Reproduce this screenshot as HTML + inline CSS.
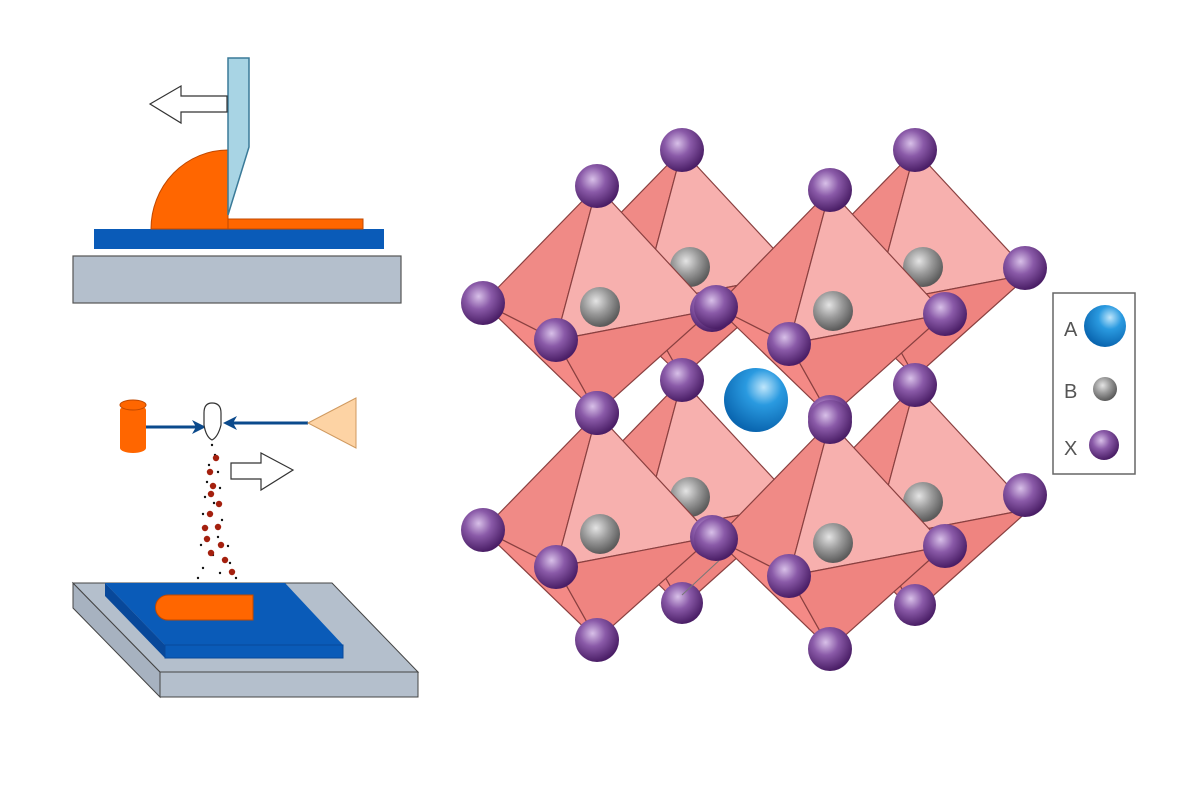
<!DOCTYPE html>
<html><head><meta charset="utf-8"><style>
html,body{margin:0;padding:0;background:#fff;width:1200px;height:800px;overflow:hidden}
svg{display:block}
</style></head><body>
<svg id="s" width="1200" height="800" viewBox="0 0 1200 800" xmlns="http://www.w3.org/2000/svg">
<defs>
<radialGradient id="gx" cx="0.4" cy="0.35" r="0.65"><stop offset="0" stop-color="#d8c0e8"/><stop offset="0.45" stop-color="#8a5aa8"/><stop offset="1" stop-color="#4a1e66"/></radialGradient>
<radialGradient id="gb" cx="0.4" cy="0.35" r="0.65"><stop offset="0" stop-color="#e4e4e4"/><stop offset="0.5" stop-color="#9a9a9a"/><stop offset="1" stop-color="#5a5a5a"/></radialGradient>
<radialGradient id="ga" cx="0.62" cy="0.3" r="0.7"><stop offset="0" stop-color="#bfe6fb"/><stop offset="0.4" stop-color="#2a9ae0"/><stop offset="1" stop-color="#0a66b0"/></radialGradient>
</defs>
<!-- top-left: blade coating -->
<rect x="73" y="256" width="328" height="47" fill="#b4bfcc" stroke="#555" stroke-width="1.2"/>
<rect x="94" y="229" width="290" height="20" fill="#0a5bb8"/>
<rect x="228" y="219" width="135" height="10" fill="#ff6600" stroke="#c04800" stroke-width="1"/>
<path d="M228 229 L151 229 A77 79 0 0 1 228 150 Z" fill="#ff6600" stroke="#c04800" stroke-width="1"/>
<polygon points="228,58 249,58 249,147 228,215" fill="#a8d4e4" stroke="#3a7a98" stroke-width="1.5"/>
<polygon points="227,96 181,96 181,86 150,104 181,123 181,112 227,112" fill="#fff" stroke="#333" stroke-width="1.2"/>
<!-- bottom-left: spray -->
<polygon points="73,583 160,672 160,697 73,608" fill="#a7b2c0" stroke="#444" stroke-width="1"/>
<polygon points="73,583 332,583 418,672 160,672" fill="#b4bfcc" stroke="#444" stroke-width="1"/>
<rect x="160" y="672" width="258" height="25" fill="#b4bfcc" stroke="#444" stroke-width="1"/>
<polygon points="105,583 285,583 343,645 165,645" fill="#0a5bb8"/>
<polygon points="105,583 165,645 165,658 105,596" fill="#08489a"/>
<rect x="165" y="645" width="178" height="13" fill="#0a5bb8" stroke="#08489a"/>
<path d="M168 595 L253 595 L253 620 L168 620 A12.5 12.5 0 0 1 168 595 Z" fill="#ff6600" stroke="#c04800"/>
<g id="spray"></g>
<rect x="120" y="405" width="26" height="48" rx="13" ry="5" fill="#ff6600"/>
<ellipse cx="133" cy="405" rx="13" ry="5" fill="#ff6600" stroke="#c04800"/>
<line x1="146" y1="427" x2="200" y2="427" stroke="#0b4a8c" stroke-width="3"/>
<polygon points="206,427 192,420 196,427 192,434" fill="#0b4a8c"/>
<line x1="308" y1="423" x2="230" y2="423" stroke="#0b4a8c" stroke-width="3"/>
<polygon points="223,423 237,416 233,423 237,430" fill="#0b4a8c"/>
<polygon points="308,423 356,398 356,448" fill="#fdd3a4" stroke="#d09a60"/>
<path d="M204 413 Q204 403 212 403 Q221 403 221 413 L221 425 Q218 437 212 440 Q206 437 204 425 Z" fill="#fff" stroke="#333" stroke-width="1.2"/>
<polygon points="231,463 261,463 261,453 293,470 261,490 261,479 231,479" fill="#fff" stroke="#333" stroke-width="1.2"/>
<!-- legend -->
<rect x="1053" y="293" width="82" height="181" fill="#fff" stroke="#666" stroke-width="1.5"/>
<g font-family="Liberation Sans, sans-serif" font-size="20" fill="#555">
<text x="1064" y="336">A</text><text x="1064" y="398">B</text><text x="1064" y="455">X</text>
</g>
<circle cx="1105" cy="326" r="21" fill="url(#ga)"/>
<circle cx="1105" cy="389" r="12" fill="url(#gb)"/>
<circle cx="1104" cy="445" r="15" fill="url(#gx)"/>
<g id="oct"></g>
</svg>
<script>
var NS="http://www.w3.org/2000/svg";
function el(p,t,a){var e=document.createElementNS(NS,t);for(var k in a)e.setAttribute(k,a[k]);p.appendChild(e);return e;}
var sp=document.getElementById('spray');
var dots=[[212,445],[215,455],[209,465],[218,472],[207,482],[220,488],[205,497],[214,503],[203,514],[222,520],[207,528],[218,537],[201,545],[228,546],[213,555],[203,568],[230,563],[220,573],[236,578],[198,578]];
dots.forEach(function(d){el(sp,'circle',{cx:d[0],cy:d[1],r:1.2,fill:'#111'});});
var red=[[216,458],[210,472],[213,486],[211,494],[219,504],[210,514],[218,527],[207,539],[221,545],[211,553],[225,560],[205,528],[232,572]];
red.forEach(function(d){el(sp,'circle',{cx:d[0],cy:d[1],r:3.2,fill:'#a4200e'});});
var g=document.getElementById('oct');
// base octahedron relative to top vertex
function oct(tx,ty){
 var T=[tx,ty],L=[tx-114,ty+117],F=[tx-41,ty+154],R=[tx+115,ty+124],B=[tx,ty+227],K=[tx+41,ty+90];
 function p(a){return a.map(function(v){return v[0]+','+v[1]}).join(' ');}
 var st={stroke:'#8a4040','stroke-width':1.2,'stroke-linejoin':'round'};
 function f(pts,c){var o={points:p(pts),fill:c};for(var k in st)o[k]=st[k];el(g,'polygon',o);}
 f([T,L,F],'#f08a86');f([T,F,R],'#f7b0ae');f([L,F,B],'#f48a86');f([F,R,B],'#ef8480');
 return {T:T,L:L,F:F,R:R,B:B,C:[tx+3,ty+129]};
}
function atom(x,y,r,gr){el(g,'circle',{cx:x,cy:y,r:r,fill:'url(#'+gr+')'});}
var backs=[[682,150],[915,150],[682,380],[915,385]];
var fronts=[[597,186],[830,190],[597,413],[830,422]];
var bo=backs.map(function(b){return oct(b[0],b[1]);});
bo.forEach(function(o){atom(o.C[0]+5,o.C[1]-12,20,'gb');});
atom(1025,268,22,'gx');atom(1025,495,22,'gx');atom(682,603,21,'gx');atom(915,605,21,'gx');
el(g,'line',{x1:682,y1:595,x2:725,y2:555,stroke:'#777','stroke-width':1});
var fo=fronts.map(function(b){return oct(b[0],b[1]);});
fo.forEach(function(o){atom(o.C[0],o.C[1]-8,20,'gb');});
atom(682,150,22,'gx');atom(915,150,22,'gx');atom(682,380,22,'gx');atom(915,385,22,'gx');
atom(756,400,32,'ga');
fo.forEach(function(o){atom(o.T[0],o.T[1],22,'gx');atom(o.L[0],o.L[1],22,'gx');atom(o.F[0],o.F[1],22,'gx');atom(o.R[0],o.R[1],22,'gx');atom(o.B[0],o.B[1],22,'gx');});
</script>
</body></html>
